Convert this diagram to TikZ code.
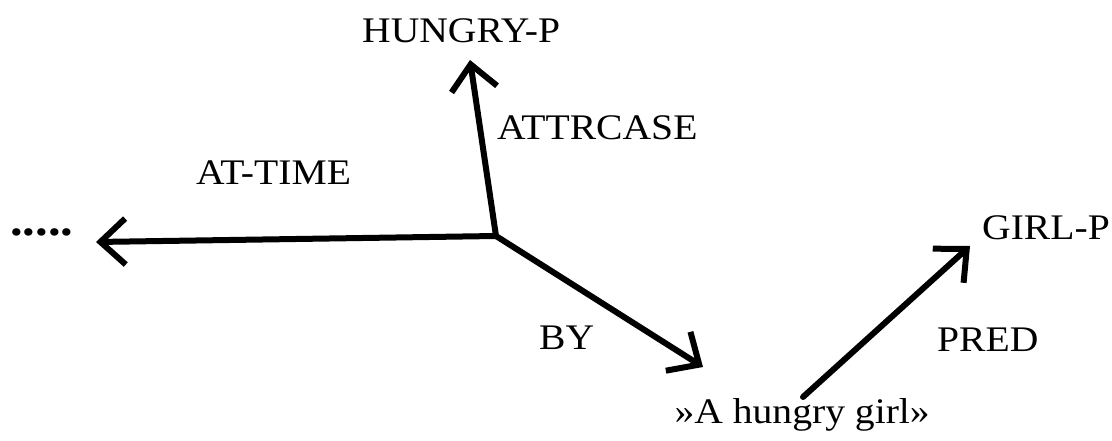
\documentclass[tikz,border=0pt]{standalone}
\usepackage{fontspec}
\setmainfont{Liberation Serif}[FakeStretch=1.1]
\usetikzlibrary{arrows.meta}
\begin{document}
\begin{tikzpicture}[x=1pt,y=-1pt,
  lbl/.style={inner sep=0pt, anchor=base west, font=\fontsize{36}{40}\selectfont},
  conn/.style={line width=6pt, line cap=round, line join=round,
    -{Straight Barb[length=25pt,width=46pt]}}]
\useasboundingbox[fill=white] (0,0) rectangle (1112,441);
% labels
\node[lbl] (hungry) at (362,43) {HUNGRY-P};
\node[lbl] (attrcase) at (497,140) {ATTRCASE};
\node[lbl] (attime) at (196,185) {AT-TIME};
\node[lbl, font=\bfseries\fontsize{46}{50}\selectfont] (dots) at (10,235) {.....};
\node[lbl] (by) at (539,349) {BY};
\node[lbl] (pred) at (937,351) {PRED};
\node[lbl] (girl) at (982,240) {GIRL-P};
\node[lbl, anchor=base east] (phrase) at (930,423) {»A hungry girl»};
% connector end points
\coordinate (J) at (496,236);
\coordinate (upTip) at (470,60);
\coordinate (leftTip) at (96,242);
\coordinate (byTip) at (703,367);
\coordinate (predStart) at (803,397);
\coordinate (predTip) at (970,246);
% connectors
\draw[conn] (J) -- (upTip);
\draw[conn] (J) -- (leftTip);
\draw[conn] (J) -- (byTip);
\draw[conn] (predStart) -- (predTip);
\end{tikzpicture}
\end{document}
